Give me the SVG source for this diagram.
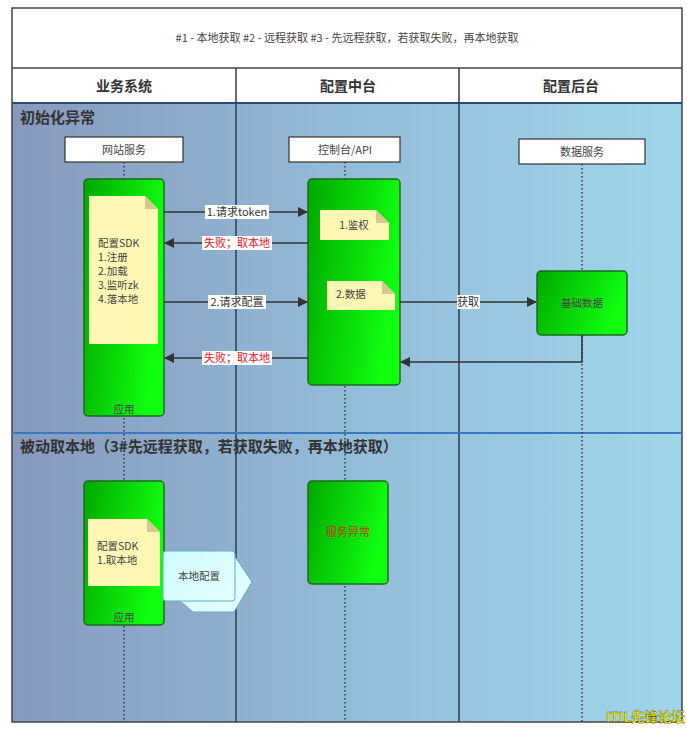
<svg xmlns="http://www.w3.org/2000/svg" width="687" height="729" viewBox="0 0 687 729">
<defs>
<linearGradient id="bg" x1="0" y1="0" x2="1" y2="0">
<stop offset="0" stop-color="#8799bd"/>
<stop offset="0.5" stop-color="#93bcd8"/>
<stop offset="1" stop-color="#a0d6ec"/>
</linearGradient>
<linearGradient id="gr" x1="0" y1="0" x2="1" y2="0.3">
<stop offset="0" stop-color="#00a800"/>
<stop offset="1" stop-color="#10ff10"/>
</linearGradient>
<linearGradient id="cy" x1="0" y1="0" x2="1" y2="1">
<stop offset="0" stop-color="#ccfbfd"/>
<stop offset="1" stop-color="#e6ffff"/>
</linearGradient>
<marker id="ah2" viewBox="0 0 10 10" refX="9" refY="5" markerWidth="14" markerHeight="10" markerUnits="userSpaceOnUse" orient="auto">
<path d="M0,0 L10,5 L0,10 Z" fill="#333"/>
</marker>
</defs>
<style>
text{font-family:"Noto Sans CJK SC","Liberation Sans",sans-serif}
.lane{stroke:#2b3d4f;stroke-width:1.5;fill:none}
.life{stroke:#33445a;stroke-width:1.6;stroke-dasharray:1.6 2.4;fill:none}
.lbox{fill:#fff;stroke:#333;stroke-width:1.2}
.lt{font-size:11px;fill:#444;text-anchor:middle}
.green{fill:url(#gr);stroke:#1c6b1c;stroke-width:1.5}
.note{fill:#fff8b4}
.fold{fill:#d6c88e}
.nt{font-size:10.5px;fill:#444}
.msg{stroke:#333;stroke-width:1.5;fill:none;marker-end:url(#ah2)}
.ml{font-size:11px;fill:#333;text-anchor:middle}
.mr{font-size:11px;fill:#e8141e;text-anchor:middle}
.lbg{fill:#fff}
.hd{font-size:14px;font-weight:bold;fill:#333;text-anchor:middle}
.band{font-size:15px;font-weight:bold;fill:#333}
</style>
<rect x="0" y="0" width="687" height="729" fill="#fff"/>
<g id="frame">
<rect x="12" y="103" width="670" height="619" fill="url(#bg)"/>
<rect x="12" y="8" width="670" height="714" fill="none" stroke="#444" stroke-width="1.5"/>
<line x1="12" y1="68" x2="682" y2="68" stroke="#444" stroke-width="1.5"/>
<line x1="12" y1="103" x2="682" y2="103" stroke="#2a4a78" stroke-width="2"/>
<line class="lane" x1="236" y1="68" x2="236" y2="722"/>
<line class="lane" x1="459" y1="68" x2="459" y2="722"/>
<line x1="12" y1="433" x2="682" y2="433" stroke="#3a78c0" stroke-width="2"/>
<text x="347" y="42" font-size="11" fill="#444" text-anchor="middle">#1 - 本地获取 #2 - 远程获取 #3 - 先远程获取，若获取失败，再本地获取</text>
<text class="hd" x="124" y="91">业务系统</text>
<text class="hd" x="348" y="91">配置中台</text>
<text class="hd" x="571" y="91">配置后台</text>
<text class="band" x="20" y="123">初始化异常</text>
<text class="band" x="20" y="452">被动取本地（3#先远程获取，若获取失败，再本地获取）</text>
</g>
<g id="lifelines">
<line class="life" x1="124" y1="162" x2="124" y2="722"/>
<line class="life" x1="345" y1="162" x2="345" y2="722"/>
<line class="life" x1="582" y1="164" x2="582" y2="722"/>
</g>
<g id="web">
<rect class="lbox" x="65" y="137" width="118" height="25"/>
<text class="lt" x="124" y="154">网站服务</text>
</g>
<g id="api">
<rect class="lbox" x="289" y="137" width="111" height="25"/>
<text class="lt" x="345" y="154">控制台/API</text>
</g>
<g id="data">
<rect class="lbox" x="519" y="139" width="126" height="25"/>
<text class="lt" x="582" y="156">数据服务</text>
</g>
<g id="app1">
<rect class="green" x="84" y="179" width="80" height="237" rx="4"/>
<path class="note" d="M89,196 H145 L158,209 V344 H89 Z"/>
<path class="fold" d="M145,196 V209 H158 Z"/>
<text class="nt" x="98" y="247">配置SDK</text>
<text class="nt" x="98" y="261">1.注册</text>
<text class="nt" x="98" y="275">2.加载</text>
<text class="nt" x="98" y="289">3.监听zk</text>
<text class="nt" x="98" y="303">4.落本地</text>
<text class="nt" x="124" y="413" text-anchor="middle">应用</text>
</g>
<g id="center1">
<rect class="green" x="308" y="179" width="92" height="206" rx="4"/>
<path class="note" d="M320,210 H376 L389,223 V240 H320 Z"/>
<path class="fold" d="M376,210 V223 H389 Z"/>
<text class="nt" x="354" y="229" text-anchor="middle">1.鉴权</text>
<path class="note" d="M327,281 H382 L395,294 V310 H327 Z"/>
<path class="fold" d="M382,281 V294 H395 Z"/>
<text class="nt" x="336" y="298">2.数据</text>
</g>
<g id="basedata">
<rect class="green" x="537" y="271" width="90" height="64" rx="4"/>
<text class="nt" x="582" y="307" text-anchor="middle">基础数据</text>
</g>
<g id="app2">
<rect class="green" x="84" y="481" width="80" height="144" rx="4"/>
<path class="note" d="M88,519 H147 L160,532 V586 H88 Z"/>
<path class="fold" d="M147,519 V532 H160 Z"/>
<text class="nt" x="97" y="550">配置SDK</text>
<text class="nt" x="97" y="564">1.取本地</text>
<text class="nt" x="124" y="621" text-anchor="middle">应用</text>
</g>
<g id="localcfg">
<polygon points="176,558 236,558 252,582 234,612 193,612 180,601" fill="url(#cy)" stroke="#5fb0c0" stroke-width="1"/>
<rect x="163" y="551" width="72" height="50" rx="3" fill="url(#cy)" stroke="#5fb0c0" stroke-width="1"/>
<text class="nt" x="199" y="580" text-anchor="middle">本地配置</text>
</g>
<g id="svcerr">
<rect class="green" x="308" y="481" width="80" height="103" rx="4"/>
<text x="348" y="536" font-size="11" fill="#c03a10" text-anchor="middle">服务异常</text>
</g>
<g id="connectors">
<line class="msg" x1="164" y1="212" x2="307" y2="212"/>
<rect class="lbg" x="205" y="205" width="64" height="14"/>
<text class="ml" x="237" y="216">1.请求token</text>
<line class="msg" x1="308" y1="243" x2="165" y2="243"/>
<rect class="lbg" x="202" y="236" width="70" height="14"/>
<text class="mr" x="237" y="247">失败；取本地</text>
<line class="msg" x1="164" y1="302" x2="307" y2="302"/>
<rect class="lbg" x="208" y="295" width="58" height="14"/>
<text class="ml" x="237" y="306">2.请求配置</text>
<line class="msg" x1="308" y1="358" x2="165" y2="358"/>
<rect class="lbg" x="202" y="351" width="70" height="14"/>
<text class="mr" x="237" y="362">失败；取本地</text>
<line class="msg" x1="400" y1="302" x2="536" y2="302"/>
<rect class="lbg" x="457" y="295" width="23" height="14"/>
<text class="ml" x="468" y="306">获取</text>
<polyline class="msg" points="582,335 582,362 401,362"/>
</g>
<g id="watermark">
<text x="685" y="722" font-size="13.5" font-weight="bold" fill="#f5f000" stroke="#333" stroke-width="0.3" text-anchor="end">ITIL先锋论坛</text>
</g>
</svg>
